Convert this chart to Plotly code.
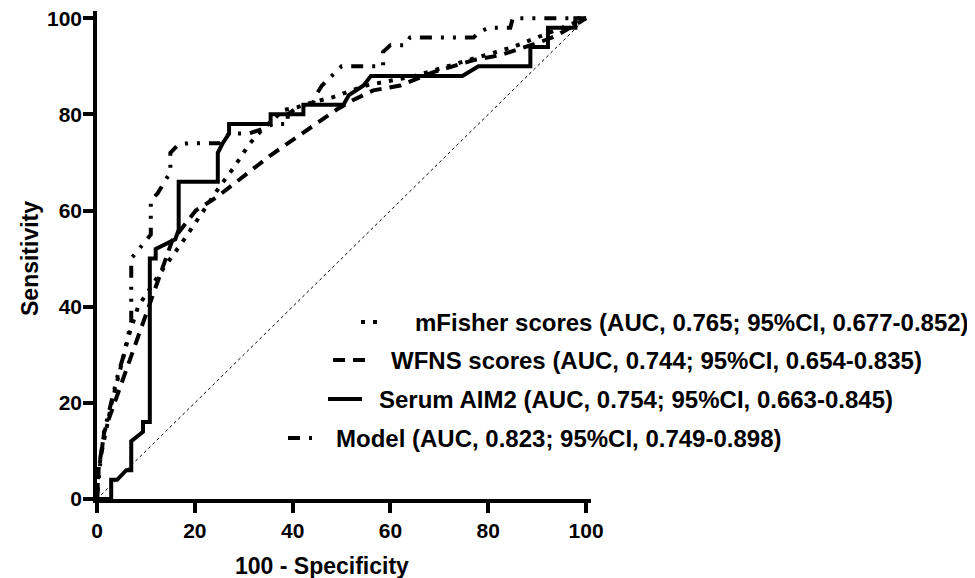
import plotly.graph_objects as go

# ---- data ----
mfisher_x = [0, 0.3, 1, 3, 5, 6.5, 8.4, 10, 12.9, 17.5, 18.8, 20.6, 24.9, 28, 31, 32.7, 35, 38.2, 41, 44, 48, 55, 65, 75, 85, 95, 100]
mfisher_y = [0, 6, 10, 20, 28, 34, 40, 42.4, 47, 53.5, 55.5, 58, 64.7, 69, 73.6, 75.7, 78, 80.9, 81.5, 82.5, 83.5, 86, 88, 91, 94, 98, 100]

wfns_x = [0, 0.3, 1.5, 12.4, 15.4, 20.2, 24.5, 35.5, 49, 52.4, 56.5, 62, 68.8, 77, 82.4, 90, 94, 100]
wfns_y = [0, 6, 14, 45, 53.8, 60, 62.8, 71.5, 81, 83, 85, 86, 88.8, 91.3, 92.3, 94.8, 96.4, 100]

aim2_x = [0, 2.9, 2.9, 4.1, 6, 7, 7, 9.4, 9.4, 10.8, 10.8, 12, 12, 16, 16.7, 16.7, 24.7, 24.7, 25.7, 27, 27,
          35.5, 35.5, 42.2, 42.2, 50.4, 51.5, 54.5, 56, 74.7, 78, 88.6, 88.6, 92.2, 92.2, 97.8, 97.8, 100]
aim2_y = [0, 0, 4, 4, 6, 6, 12, 14, 16, 16, 50, 50, 52, 54, 56, 66, 66, 72, 74, 76, 78,
          78, 80, 80, 82, 82, 84, 86, 88, 88, 90, 90, 94, 94, 98, 98, 100, 100]

model_x = [0, 0.5, 1.4, 4.3, 5.5, 7, 7, 8.4, 9.6, 11, 11, 12.4, 14, 15, 15, 16.5, 18.6, 25, 26, 27, 31, 34, 36, 39, 39,
           41, 44, 45, 46, 48, 50, 58.5, 58.5, 60, 63, 64, 77, 78, 80, 84.5, 85, 100]
model_y = [0, 6, 13.7, 26, 30, 37, 50, 51.8, 53.5, 55, 62, 63.6, 66.3, 68, 72, 73.6, 74, 74, 75, 76, 76, 77, 78, 78, 80,
           81.5, 82, 84.4, 86, 88, 90, 90, 93, 94.4, 94.4, 96, 96, 97, 98, 98, 100, 100]

ref_x = [0, 100]
ref_y = [0, 100]

x_ticks = [0, 20, 40, 60, 80, 100]
y_ticks = [0, 20, 40, 60, 80, 100]

x_title = "100 - Specificity"
y_title = "Sensitivity"
labels = [
    "mFisher scores (AUC, 0.765; 95%CI, 0.677-0.852)",
    "WFNS scores (AUC, 0.744; 95%CI, 0.654-0.835)",
    "Serum AIM2 (AUC, 0.754; 95%CI, 0.663-0.845)",
    "Model (AUC, 0.823; 95%CI, 0.749-0.898)",
]

FONT = "Liberation Sans, Arial, sans-serif"
DOT = "4px,8px"
DASH = "12px,8px"
DASHDOT = "12px,9px,3px,9px,3px,9px"

fig = go.Figure()
fig.add_trace(go.Scatter(x=ref_x, y=ref_y, mode="lines",
                         line=dict(color="black", width=1, dash="3px,3px"), showlegend=False))
fig.add_trace(go.Scatter(x=wfns_x, y=wfns_y, mode="lines", name=labels[1],
                         line=dict(color="black", width=4, dash=DASH)))
fig.add_trace(go.Scatter(x=mfisher_x, y=mfisher_y, mode="lines", name=labels[0],
                         line=dict(color="black", width=4, dash=DOT)))
fig.add_trace(go.Scatter(x=model_x, y=model_y, mode="lines", name=labels[3],
                         line=dict(color="black", width=4, dash=DASHDOT)))
fig.add_trace(go.Scatter(x=aim2_x, y=aim2_y, mode="lines", name=labels[2],
                         line=dict(color="black", width=4)))

axis_common = dict(
    showgrid=False, zeroline=False, showline=True, linecolor="black", linewidth=3.5,
    ticks="outside", ticklen=10, tickwidth=3.5, tickcolor="black", automargin=False,
    ticklabeloverflow="allow",
    tickfont=dict(family=FONT, size=21, color="black", weight="bold"),
)

fig.update_xaxes(range=[0, 101], tickvals=x_ticks, ticktext=[str(v) for v in x_ticks], **axis_common)
fig.update_yaxes(range=[0, 101.5], tickvals=y_ticks, ticktext=[str(v) for v in y_ticks],
                 ticklabelstandoff=-3, **axis_common)

# positions given in page pixels, converted to paper coordinates
W, H = 494.0, 488.0   # plot area size in px
def px2paper(px, py):
    return (px - 97) / W, (499 - py) / H

# axis titles
tx, ty = px2paper(322, 566)
fig.add_annotation(xref="paper", yref="paper", x=tx, y=ty, text=x_title, showarrow=False,
                   xanchor="center", yanchor="middle",
                   font=dict(family=FONT, size=23, color="black", weight="bold"))
tx, ty = px2paper(30, 259)
fig.add_annotation(xref="paper", yref="paper", x=tx, y=ty, text=y_title, showarrow=False,
                   textangle=-90, xanchor="center", yanchor="middle",
                   font=dict(family=FONT, size=23, color="black", weight="bold"))

# custom legend (text + line samples)
leg = [
    (labels[0], 413, 322, 361, 381, DOT),
    (labels[1], 389, 360, 333, 369, DASH),
    (labels[2], 377, 399, 328, 362, "solid"),
    (labels[3], 334, 438, 288, 312, DASHDOT),
]
for text, lx, ly, sx0, sx1, dash in leg:
    ax, ay = px2paper(lx, ly)
    fig.add_annotation(xref="paper", yref="paper", x=ax, y=ay, text=text, showarrow=False,
                       xanchor="left", yanchor="middle",
                       font=dict(family=FONT, size=24, color="black", weight="bold"))
    x0, y0 = px2paper(sx0, ly)
    x1, _ = px2paper(sx1, ly)
    fig.add_shape(type="line", xref="paper", yref="paper", x0=x0, x1=x1, y0=y0, y1=y0,
                  line=dict(color="black", width=4, dash=dash))

# page body has an 8px margin, so margins are offset accordingly
fig.update_layout(
    width=975, height=578,
    margin=dict(l=89, r=392, t=3, b=87),
    plot_bgcolor="white", paper_bgcolor="white",
    showlegend=False,
    font=dict(family=FONT, color="black"),
)

fig.write_html("out.html")
